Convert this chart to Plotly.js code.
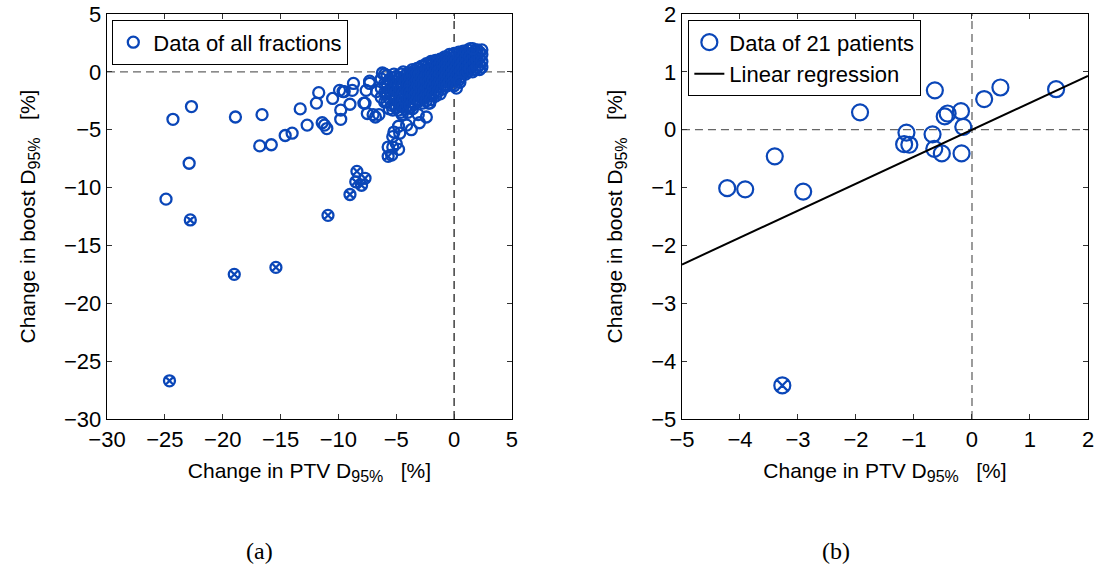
<!DOCTYPE html>
<html>
<head>
<meta charset="utf-8">
<script src="https://cdn.plot.ly/plotly-3.0.1.min.js"></script>
<style>html,body{margin:0;padding:0;background:#fff;}#chart{width:1096px;height:572px;}</style>
</head>
<body>
<div id="chart"></div>
<script>
// ---- Panel (a): all fractions (open circles) ----
var fracX = [
  -24.3,-22.7,-18.9,-16.6,-13.3,-22.9,-24.9,
  -16.8,-15.8,-14.6,-14.0,-12.7,-11.4,-11.2,-11.0,
  -11.9,-11.7,-10.5,-9.8,-9.8,-9.9,-9.5,-8.8,-8.7,-9.0,-9.6,
  -7.3,-7.6,-7.8,-7.5,-7.0,-6.5,-6.2,-7.3,-6.7,-6.8,-7.7,
  -5.3,-4.7,-5.3,-4.8,-5.0,-5.4,-5.7,-5.2,-4.8,-4.1,-3.7,-3.0,-2.4,-5.3,-4.5,-3.8,-3.1,-2.7,-2.1,
  -6.3,-6.3,-6.3,
  -6.0,-6.0,-6.0,-6.0,
  -5.8,-5.8,-5.8,-5.8,
  -5.6,-5.6,-5.6,-5.6,
  -5.4,-5.4,-5.4,-5.4,
  -5.2,-5.2,-5.2,-5.2,-5.2,
  -5.0,-5.0,-5.0,-5.0,-5.0,
  -4.8,-4.8,-4.8,-4.8,-4.8,
  -4.6,-4.6,-4.6,-4.6,-4.6,-4.6,
  -4.4,-4.4,-4.4,-4.4,-4.4,-4.4,
  -4.2,-4.2,-4.2,-4.2,-4.2,-4.2,
  -4.0,-4.0,-4.0,-4.0,-4.0,-4.0,-4.0,
  -3.8,-3.8,-3.8,-3.8,-3.8,-3.8,
  -3.6,-3.6,-3.6,-3.6,-3.6,-3.6,-3.6,
  -3.4,-3.4,-3.4,-3.4,-3.4,-3.4,
  -3.2,-3.2,-3.2,-3.2,-3.2,-3.2,
  -3.0,-3.0,-3.0,-3.0,-3.0,-3.0,
  -2.8,-2.8,-2.8,-2.8,-2.8,-2.8,
  -2.6,-2.6,-2.6,-2.6,-2.6,-2.6,
  -2.4,-2.4,-2.4,-2.4,-2.4,-2.4,-2.4,
  -2.2,-2.2,-2.2,-2.2,-2.2,-2.2,-2.2,
  -2.0,-2.0,-2.0,-2.0,-2.0,-2.0,-2.0,
  -1.8,-1.8,-1.8,-1.8,-1.8,-1.8,
  -1.6,-1.6,-1.6,-1.6,-1.6,-1.6,-1.6,
  -1.4,-1.4,-1.4,-1.4,-1.4,-1.4,
  -1.2,-1.2,-1.2,-1.2,-1.2,-1.2,-1.2,
  -1.0,-1.0,-1.0,-1.0,-1.0,-1.0,
  -0.8,-0.8,-0.8,-0.8,-0.8,-0.8,
  -0.6,-0.6,-0.6,-0.6,-0.6,-0.6,
  -0.4,-0.4,-0.4,-0.4,-0.4,-0.4,
  -0.2,-0.2,-0.2,-0.2,-0.2,-0.2,
  0.0,0.0,0.0,0.0,0.0,0.0,0.0,
  0.2,0.2,0.2,0.2,0.2,0.2,
  0.4,0.4,0.4,0.4,0.4,0.4,
  0.6,0.6,0.6,0.6,0.6,
  0.8,0.8,0.8,0.8,0.8,
  1.0,1.0,1.0,1.0,1.0,
  1.2,1.2,1.2,1.2,1.2,
  1.4,1.4,1.4,1.4,
  1.6,1.6,1.6,1.6,
  1.8,1.8,1.8,1.8,
  2.0,2.0,2.0,2.0,
  2.2,2.2,2.2,2.2,
  2.4,2.4,2.4,
  2.4,1.6,0.5
];
var fracY = [
  -4.1,-3.0,-3.9,-3.7,-3.2,-7.9,-11.0,
  -6.4,-6.3,-5.5,-5.3,-4.6,-4.4,-4.6,-4.9,
  -2.7,-1.8,-2.3,-3.3,-4.1,-1.6,-1.7,-1.6,-1.0,-2.8,-1.7,
  -0.8,-1.6,-2.7,-3.6,-3.7,-3.7,-0.1,-1.0,-1.7,-3.9,-2.7,
  -5.6,-5.3,-6.5,-6.7,-6.2,-7.2,-6.5,-5.2,-4.7,-4.6,-5.0,-4.4,-3.9,-3.3,-3.7,-3.1,-3.7,-2.7,-2.7,
  -0.6,-1.4,-2.2,
  -0.2,-1.0,-1.8,-2.6,
  -0.3,-1.0,-1.8,-2.6,
  -0.7,-1.6,-2.3,-3.2,
  -0.5,-1.3,-2.0,-2.9,
  -0.2,-0.8,-1.5,-2.2,-2.8,
  -0.4,-1.1,-1.7,-2.4,-3.1,
  -0.6,-1.3,-1.9,-2.6,-3.3,
  -0.2,-0.9,-1.5,-2.2,-2.8,-3.5,
  0.0,-0.6,-1.2,-1.8,-2.4,-3.0,
  -0.3,-0.8,-1.4,-2.0,-2.6,-3.2,
  -0.1,-0.6,-1.1,-1.7,-2.3,-2.9,-3.5,
  -0.1,-0.6,-1.2,-1.8,-2.3,-2.9,
  0.2,-0.3,-0.9,-1.5,-2.0,-2.6,-3.2,
  0.1,-0.4,-1.0,-1.6,-2.1,-2.7,
  0.3,-0.1,-0.7,-1.3,-1.8,-2.4,
  0.3,-0.2,-0.8,-1.3,-1.9,-2.5,
  0.5,0.0,-0.5,-1.0,-1.6,-2.2,
  0.5,0.0,-0.6,-1.1,-1.7,-2.3,
  0.7,0.2,-0.3,-0.8,-1.4,-2.0,-2.5,
  0.7,0.2,-0.4,-0.9,-1.5,-2.1,-2.7,
  0.9,0.3,-0.1,-0.6,-1.2,-1.8,-2.4,
  0.9,0.4,-0.2,-0.7,-1.3,-1.9,
  1.0,0.6,0.1,-0.4,-1.0,-1.6,-2.1,
  1.0,0.5,0.0,-0.5,-1.1,-1.7,
  1.1,0.7,0.2,-0.2,-0.8,-1.3,-1.9,
  1.1,0.6,0.1,-0.4,-0.9,-1.5,
  1.3,0.9,0.4,-0.1,-0.6,-1.1,
  1.2,0.8,0.3,-0.2,-0.7,-1.2,
  1.5,1.0,0.6,0.1,-0.4,-0.9,
  1.4,0.9,0.4,-0.1,-0.6,-1.1,
  1.6,1.2,0.7,0.2,-0.3,-0.8,-1.2,
  1.5,1.0,0.5,0.0,-0.5,-1.4,
  1.7,1.3,0.8,0.3,-0.2,-0.7,
  1.6,1.1,0.6,0.1,-0.4,
  1.8,1.4,0.9,0.4,-0.1,
  1.7,1.2,0.7,0.2,-0.2,
  1.9,1.5,1.0,0.5,0.0,
  2.0,1.3,0.8,0.3,
  1.6,1.1,0.5,0.0,
  1.8,1.3,0.8,0.2,
  1.9,1.5,1.0,0.4,
  1.7,1.2,0.6,0.2,
  1.5,0.9,0.4,
  1.9,2.0,-0.9
];
// excluded fractions (crossed circles)
var exclFracX = [-22.8,-19.0,-15.4,-24.6,-10.9,-9.0,-8.4,-8.5,-7.7,-8.0,-5.7];
var exclFracY = [-12.8,-17.5,-16.9,-26.7,-12.4,-10.6,-8.6,-9.5,-9.2,-9.8,-7.3];

// ---- Panel (b): per-patient data ----
var patX = [-4.22,-3.91,-3.40,-2.91,-1.93,-1.13,-1.17,-1.08,-0.64,-0.68,-0.65,-0.52,-0.47,-0.42,-0.19,-0.15,-0.18,0.21,0.49,1.45];
var patY = [-1.01,-1.03,-0.46,-1.07,0.30,-0.05,-0.25,-0.26,0.68,-0.08,-0.33,-0.41,0.23,0.28,0.32,0.05,-0.41,0.53,0.73,0.70];
var exclPatX = [-3.27];
var exclPatY = [-4.42];
var regX = [-5, 2];
var regY = [-2.33, 0.93];

// tick values
var ticksAX = [-30,-25,-20,-15,-10,-5,0,5];
var ticksAY = [-30,-25,-20,-15,-10,-5,0,5];
var ticksBX = [-5,-4,-3,-2,-1,0,1,2];
var ticksBY = [-5,-4,-3,-2,-1,0,1,2];

var BLUE = '#0a46b8';
var FONT = 'Liberation Sans, Arial, sans-serif';

var traces = [
  {x: fracX, y: fracY, type: 'scatter', mode: 'markers', name: 'Data of all fractions',
   xaxis: 'x', yaxis: 'y', legend: 'legend',
   marker: {symbol: 'circle-open', size: 11, color: BLUE, line: {width: 2.3, color: BLUE}}},
  {x: exclFracX, y: exclFracY, type: 'scatter', mode: 'markers', showlegend: false,
   xaxis: 'x', yaxis: 'y',
   marker: {symbol: 'circle-x-open', size: 11, color: BLUE, line: {width: 2.3, color: BLUE}}},
  {x: patX, y: patY, type: 'scatter', mode: 'markers', name: 'Data of 21 patients',
   xaxis: 'x2', yaxis: 'y2', legend: 'legend2',
   marker: {symbol: 'circle-open', size: 16, color: BLUE, line: {width: 2.2, color: BLUE}}},
  {x: exclPatX, y: exclPatY, type: 'scatter', mode: 'markers', showlegend: false,
   xaxis: 'x2', yaxis: 'y2',
   marker: {symbol: 'circle-x-open', size: 16, color: BLUE, line: {width: 2.2, color: BLUE}}},
  {x: regX, y: regY, type: 'scatter', mode: 'lines', name: 'Linear regression',
   xaxis: 'x2', yaxis: 'y2', legend: 'legend2',
   line: {color: '#000', width: 2}}
];

function axis(range, tickvals, domain, anchor, title) {
  return {
    range: range, domain: domain, anchor: anchor,
    tickmode: 'array', tickvals: tickvals,
    ticks: 'inside', ticklen: 5, tickcolor: '#333', tickwidth: 1,
    showline: true, linecolor: '#000', linewidth: 1.3, mirror: 'ticks',
    showgrid: false, zeroline: false,
    tickfont: {family: FONT, size: 22, color: '#000'},
    title: {text: title, font: {family: FONT, size: 21, color: '#000'}, standoff: 22}
  };
}

var xTitle = 'Change in PTV D<sub><span style="font-size:16px">95%</span></sub>\u00a0\u00a0 [%]';
var yTitle = 'Change in boost D<sub><span style="font-size:16px">95%</span></sub>\u00a0\u00a0 [%]';

var xa = axis([-30, 5], ticksAX, [0, 0.4128], 'y', xTitle);
var xb = axis([-5, 2], ticksBX, [0.5861, 1], 'y2', xTitle);
xa.title.standoff = 12; xb.title.standoff = 12;

var layout = {
  width: 1096, height: 572,
  margin: {l: 107, r: 8, t: 14, b: 153},
  paper_bgcolor: '#fff', plot_bgcolor: '#fff',
  font: {family: FONT, color: '#000'},
  xaxis: xa,
  yaxis: axis([-30, 5], ticksAY, [0, 1], 'x', yTitle),
  xaxis2: xb,
  yaxis2: axis([-5, 2], ticksBY, [0, 1], 'x2', yTitle),
  legend: {x: 0.0051, y: 0.985, xanchor: 'left', yanchor: 'top',
    bgcolor: '#fff', bordercolor: '#000', borderwidth: 1.3,
    font: {family: FONT, size: 22, color: '#000'}},
  legend2: {x: 0.5923, y: 0.985, xanchor: 'left', yanchor: 'top',
    bgcolor: '#fff', bordercolor: '#000', borderwidth: 1.3,
    font: {family: FONT, size: 22, color: '#000'}},
  shapes: [
    {type: 'line', xref: 'x', yref: 'y domain', x0: 0, x1: 0, y0: 0, y1: 1, layer: 'below',
     line: {color: '#222', width: 1.3, dash: '8px,5px'}},
    {type: 'line', xref: 'x domain', yref: 'y', x0: 0, x1: 1, y0: 0, y1: 0, layer: 'below',
     line: {color: '#666', width: 1.3, dash: '8px,5px'}},
    {type: 'line', xref: 'x2', yref: 'y2 domain', x0: 0, x1: 0, y0: 0, y1: 1, layer: 'below',
     line: {color: '#666', width: 1.3, dash: '8px,5px'}},
    {type: 'line', xref: 'x2 domain', yref: 'y2', x0: 0, x1: 1, y0: 0, y1: 0, layer: 'below',
     line: {color: '#666', width: 1.3, dash: '8px,5px'}}
  ],
  annotations: [
    {text: '(a)', xref: 'paper', yref: 'paper', x: 0.155, y: -0.326, yanchor: 'middle', xanchor: 'center', showarrow: false,
     font: {family: 'Liberation Serif, DejaVu Serif, serif', size: 24, color: '#000'}},
    {text: '(b)', xref: 'paper', yref: 'paper', x: 0.743, y: -0.326, yanchor: 'middle', xanchor: 'center', showarrow: false,
     font: {family: 'Liberation Serif, DejaVu Serif, serif', size: 24, color: '#000'}}
  ]
};

Plotly.newPlot('chart', traces, layout, {displayModeBar: false, staticPlot: true});
</script>
</body>
</html>
